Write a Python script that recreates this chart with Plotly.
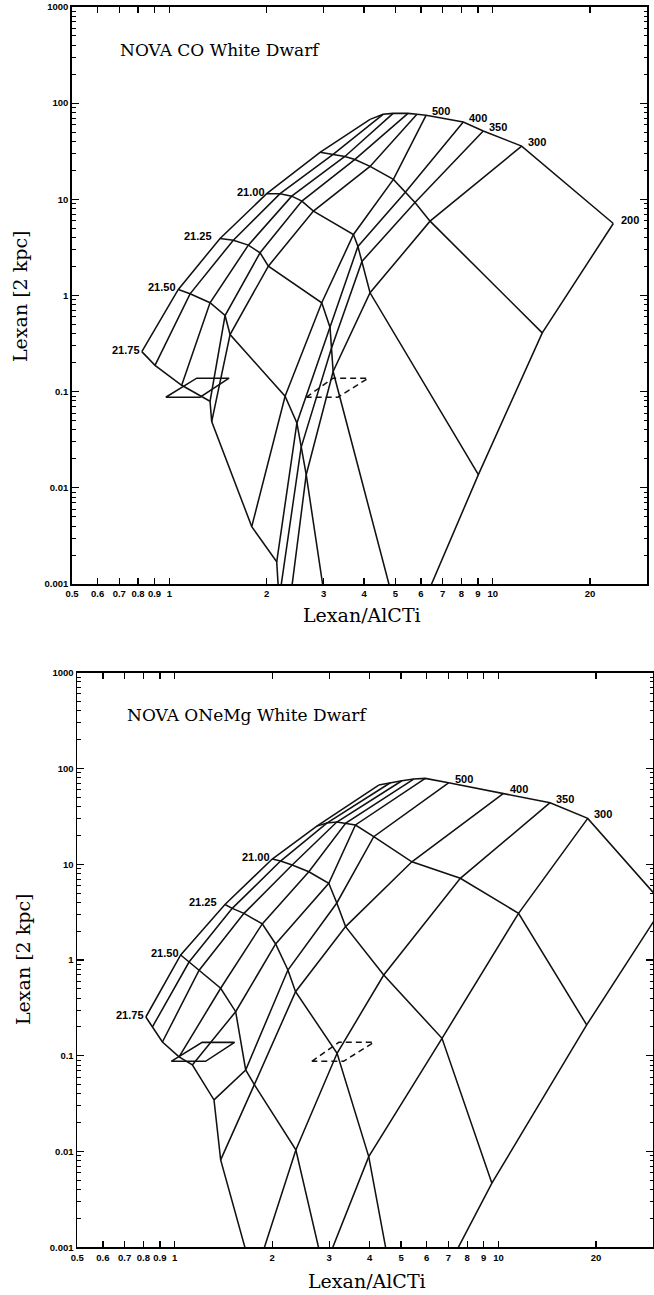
import numpy as np
import plotly.graph_objects as go

# ---------------- data ----------------
# Grid of model tracks. Rows: column density (envelope, 20.75, 21.00, 21.25, 21.50, 21.75)
# Columns: temperature (hot, unlabeled ... 500, 400, 350, 300, 200)
CO_X = [
    [4.175, 4.58, 4.92, 5.47, 5.83, 6.22, 8.11, 9.35, 12.29, 23.6],
    [2.924, 3.21, 3.49, 3.75, 4.175, 4.93, 5.36, 5.75, 6.40, 14.23],
    [2.0, 2.20, 2.39, 2.57, 2.79, 3.71, 3.83, 3.94, 4.175, 9.03],
    [1.435, 1.577, 1.755, 1.908, 2.024, 2.96, 3.14, 3.17, 3.21, 5.36],
    [1.066, 1.159, 1.336, 1.487, 1.541, 2.28, 2.48, 2.555, 2.65, 3.37],
    [0.822, 0.903, 1.092, 1.336, 1.352, 1.798, 2.148, 2.184, 2.28, 2.536],
]
CO_Y = [
    [67.8, 76.5, 78.3, 78.3, 76.5, 74.7, 63.6, 51.3, 35.8, 5.61],
    [30.8, 29.3, 27.9, 26.0, 22.0, 16.1, 11.8, 9.29, 5.93, 0.409],
    [11.44, 11.44, 10.8, 9.58, 7.54, 4.31, 3.24, 2.26, 1.067, 0.01372],
    [3.92, 3.76, 3.34, 2.78, 2.02, 0.84, 0.465, 0.281, 0.162, 0.000228],
    [1.155, 1.041, 0.84, 0.619, 0.393, 0.0896, 0.0473, 0.0262, 0.0137, 6.25e-5],
    [0.261, 0.188, 0.1166, 0.0794, 0.0489, 0.00395, 0.0017, 0.000687, 0.000263, 1.48e-5],
]
ONE_X = [
    [4.266, 4.634, 5.03, 5.47, 5.94, 7.01, 10.36, 14.43, 18.86, 32.5],
    [2.747, 2.949, 3.166, 3.375, 3.615, 4.117, 5.40, 7.62, 11.53, 18.72],
    [2.0, 2.122, 2.305, 2.595, 2.99, 3.166, 3.37, 4.42, 6.69, 9.54],
    [1.429, 1.505, 1.636, 1.863, 2.049, 2.236, 2.361, 3.172, 3.973, 5.13],
    [1.043, 1.107, 1.188, 1.386, 1.542, 1.656, 1.761, 2.366, 2.886, 3.70],
    [0.814, 0.853, 0.916, 1.031, 1.133, 1.322, 1.386, 1.756, 2.252, 2.786],
]
ONE_Y = [
    [67.1, 70.9, 74.4, 77.5, 78.8, 70.9, 55.0, 43.9, 30.1, 3.75],
    [25.0, 26.9, 27.6, 26.9, 25.7, 19.4, 10.6, 7.13, 3.07, 0.21],
    [11.33, 10.8, 9.81, 8.35, 6.32, 3.94, 2.23, 0.697, 0.152, 0.00467],
    [3.80, 3.46, 3.07, 2.38, 1.47, 0.786, 0.467, 0.1062, 0.00885, 8.5e-5],
    [1.128, 0.953, 0.777, 0.507, 0.2886, 0.0711, 0.0499, 0.0104, 0.00058, 2.3e-6],
    [0.254, 0.1999, 0.1393, 0.0972, 0.0802, 0.0346, 0.00818, 0.000457, 6.7e-5, 2.1e-7],
]

NH_LABELS = ["21.00", "21.25", "21.50", "21.75"]      # rows 2..5
NH_ROWS = [2, 3, 4, 5]
T_LABELS_CO = ["500", "400", "350", "300", "200"]     # columns 5..9
T_COLS_CO = [5, 6, 7, 8, 9]
T_LABELS_ONE = ["500", "400", "350", "300"]
T_COLS_ONE = [5, 6, 7, 8]

BOX_SOLID_X = [0.975, 1.215, 1.53, 1.245, 0.975]
BOX_SOLID_Y = [0.0875, 0.138, 0.138, 0.0875, 0.0875]
BOX_DASH_X = [2.65, 3.21, 4.12, 3.32, 2.65]
BOX_DASH_Y = [0.0875, 0.138, 0.138, 0.0875, 0.0875]

X_TICKS = [0.5, 0.6, 0.7, 0.8, 0.9, 1, 2, 3, 4, 5, 6, 7, 8, 9, 10, 20]
X_TICKTEXT = ["0.5", "0.6", "0.7", "0.8", "0.9", "1", "2", "3", "4", "5", "6", "7", "8", "9", "10", "20"]
Y_TICKS = [0.001, 0.01, 0.1, 1, 10, 100, 1000]
Y_TICKTEXT = ["0.001", "0.01", "0.1", "1", "10", "100", "1000"]
Y_MINOR = [m * 10.0 ** k for k in range(-3, 3) for m in range(2, 10)]

TITLES = ["NOVA CO White Dwarf", "NOVA ONeMg White Dwarf"]
X_TITLE = "Lexan/AlCTi"
Y_TITLE = "Lexan [2 kpc]"

# ---------------- figure ----------------
W, H = 654, 1295

def px(xp):
    return xp / W

def py(yp):
    return 1 - yp / H

LINE = dict(color="#111111", width=1.55)
SANS = "Liberation Sans"
SERIF = "DejaVu Serif"

fig = go.Figure()

panels = [
    dict(X=CO_X, Y=CO_Y, xa="x", ya="y", tl=T_LABELS_CO, tc=T_COLS_CO),
    dict(X=ONE_X, Y=ONE_Y, xa="x2", ya="y2", tl=T_LABELS_ONE, tc=T_COLS_ONE),
]

annotations = []
for p in panels:
    X, Y = p["X"], p["Y"]
    nr, nc = len(X), len(X[0])
    for r in range(nr):
        fig.add_trace(go.Scatter(x=X[r], y=Y[r], mode="lines", line=LINE,
                                 xaxis=p["xa"], yaxis=p["ya"], showlegend=False, hoverinfo="skip"))
    for c in range(nc):
        fig.add_trace(go.Scatter(x=[X[r][c] for r in range(nr)], y=[Y[r][c] for r in range(nr)],
                                 mode="lines", line=LINE,
                                 xaxis=p["xa"], yaxis=p["ya"], showlegend=False, hoverinfo="skip"))
    fig.add_trace(go.Scatter(x=BOX_SOLID_X, y=BOX_SOLID_Y, mode="lines", line=LINE,
                             xaxis=p["xa"], yaxis=p["ya"], showlegend=False, hoverinfo="skip"))
    fig.add_trace(go.Scatter(x=BOX_DASH_X, y=BOX_DASH_Y, mode="lines",
                             line=dict(color="#111111", width=1.5, dash="6px,4px"),
                             xaxis=p["xa"], yaxis=p["ya"], showlegend=False, hoverinfo="skip"))
    for lab, r in zip(NH_LABELS, NH_ROWS):
        annotations.append(dict(
            x=np.log10(X[r][0]), y=np.log10(Y[r][0]), xref=p["xa"], yref=p["ya"],
            text=lab, showarrow=False, xanchor="right", yanchor="middle",
            xshift=(-6 if lab == "21.25" else 0), yshift=2,
            font=dict(family=SANS, size=11, color="black", weight="bold")))
    for lab, c in zip(p["tl"], p["tc"]):
        annotations.append(dict(
            x=np.log10(X[0][c]), y=np.log10(Y[0][c]), xref=p["xa"], yref=p["ya"],
            text=lab, showarrow=False, xanchor="left",
            yanchor=("middle" if lab == "200" else "bottom"),
            xshift=(6 if lab == "200" else 4), yshift=(3 if lab == "200" else -4),
            font=dict(family=SANS, size=11, color="black", weight="bold")))

annotations.append(dict(x=px(118), y=py(50), xref="paper", yref="paper", text=TITLES[0],
                        showarrow=False, xanchor="left", yanchor="middle",
                        font=dict(family=SERIF, size=17, color="black")))
annotations.append(dict(x=px(125), y=py(715), xref="paper", yref="paper", text=TITLES[1],
                        showarrow=False, xanchor="left", yanchor="middle",
                        font=dict(family=SERIF, size=17, color="black")))
for (xc, yc) in [(362, 615), (367, 1281)]:
    annotations.append(dict(x=px(xc), y=py(yc), xref="paper", yref="paper", text=X_TITLE,
                            showarrow=False, xanchor="center", yanchor="middle",
                            font=dict(family=SERIF, size=19, color="black")))
for (xc, yc) in [(20, 297), (23, 960)]:
    annotations.append(dict(x=px(xc), y=py(yc), xref="paper", yref="paper", text=Y_TITLE,
                            showarrow=False, xanchor="center", yanchor="middle", textangle=-90,
                            font=dict(family=SERIF, size=19, color="black")))

tickfont = dict(family=SANS, size=9.5, color="black", weight="bold")

def xax(domain, anchor):
    return dict(type="log", range=[np.log10(0.5), np.log10(30)], domain=domain, anchor=anchor,
                automargin=False,
                showline=True, linecolor="black", linewidth=1.8, mirror="ticks",
                ticks="inside", ticklen=6, tickwidth=1.3, tickcolor="black",
                tickmode="array", tickvals=X_TICKS, ticktext=X_TICKTEXT, tickfont=tickfont,
                showgrid=False, zeroline=False)

def yax(domain, anchor):
    return dict(type="log", range=[-3, 3], domain=domain, anchor=anchor,
                automargin=False,
                showline=True, linecolor="black", linewidth=1.8, mirror="ticks",
                ticks="inside", ticklen=7, tickwidth=1.3, tickcolor="black",
                tickmode="array", tickvals=Y_TICKS, ticktext=Y_TICKTEXT, tickfont=tickfont,
                minor=dict(ticks="inside", ticklen=3.5, tickwidth=1, tickcolor="black",
                           tickmode="array", tickvals=Y_MINOR, showgrid=False),
                showgrid=False, zeroline=False)

fig.update_layout(
    width=W, height=H, margin=dict(l=0, r=0, t=0, b=0, autoexpand=False),
    paper_bgcolor="white", plot_bgcolor="white",
    xaxis=xax([px(72), px(647)], "y"),
    yaxis=yax([py(584), py(7)], "x"),
    xaxis2=xax([px(77.3), px(653)], "y2"),
    yaxis2=yax([py(1247.3), py(672.7)], "x2"),
    annotations=annotations,
    showlegend=False,
    hovermode=False,
)

# remove the browser's default 8 px body margin so the figure sits at the page corner
fig.write_html("out.html",
               config={"displayModeBar": False, "staticPlot": True},
               post_script="document.body.style.margin='0px';document.body.style.overflow='hidden';")
